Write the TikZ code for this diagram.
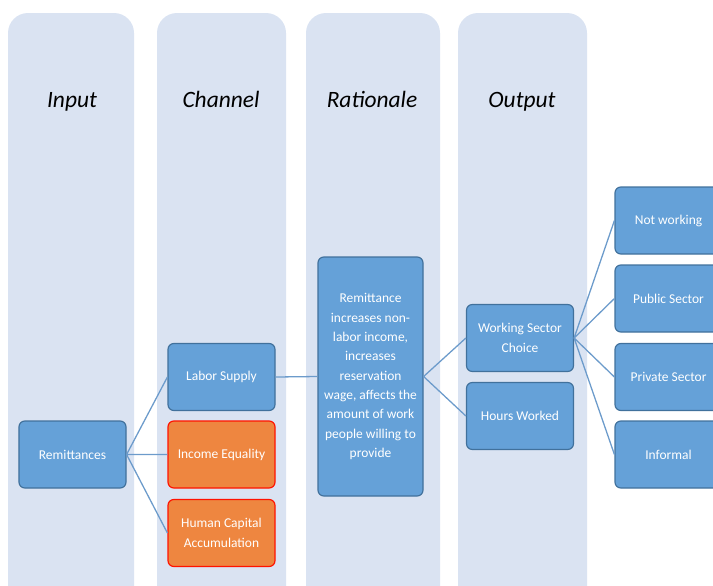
\documentclass[tikz,border=0pt]{standalone}
\usepackage{fontspec}
\setmainfont{Carlito}
\usepackage{tikz}
\definecolor{lanebg}{HTML}{DAE3F2}
\definecolor{boxblue}{HTML}{65A1D8}
\definecolor{boxedge}{HTML}{41719C}
\definecolor{boxorange}{HTML}{EE8640}
\definecolor{linkblue}{HTML}{6C9BCB}
\tikzset{
  lane/.style={fill=lanebg,rounded corners=20*0.03cm},
  lanetitle/.style={anchor=base,font=\fontsize{20}{24}\selectfont\itshape},
  box/.style={draw=boxedge,line width=1pt,fill=boxblue,rounded corners=5pt,text=white,
    minimum width=3.21cm,minimum height=2.01cm,align=center,inner sep=2pt,
    font=\fontsize{11.5}{16.5}\selectfont},
  orbox/.style={box,draw=red!85!orange,fill=boxorange},
  link/.style={draw=linkblue,line width=1.1pt}
}

\begin{document}
\begin{tikzpicture}[x=0.03cm,y=-0.03cm]
\useasboundingbox (0,0) rectangle (713,585);
% lanes
\fill[lane] (8,13) rectangle (134,620);
\fill[lane] (157,13) rectangle (286,620);
\fill[lane] (306,13) rectangle (440,620);
\fill[lane] (458,13) rectangle (587,620);
\node[lanetitle] (tin) at (72,107) {Input};
\node[lanetitle] (tch) at (221,107) {Channel};
\node[lanetitle] (tra) at (372,107) {Rationale};
\node[lanetitle] (tou) at (522,107) {Output};
% input and channels
\node[box] (rem) at (72.5,454.5) {Remittances};
\node[box] (lab) at (221.5,377) {Labor Supply};
\node[orbox] (inc) at (221.5,454.5) {Income Equality};
\node[orbox] (hum) at (221.5,533) {Human Capital\\Accumulation};
% rationale
\node[box,minimum width=3.15cm,minimum height=7.17cm] (rat) at (370.5,376.5)
  {Remittance\\increases non-\\labor income,\\increases\\reservation\\wage, affects the\\amount of work\\people willing to\\provide};
% output
\node[box] (wsc) at (520,338) {Working Sector\\Choice};
\node[box] (hrs) at (520,416) {Hours Worked};
\node[box] (nwk) at (668.5,220.5) {Not working};
\node[box] (pub) at (668.5,298.5) {Public Sector};
\node[box] (pri) at (668.5,377) {Private Sector};
\node[box] (inf) at (668.5,454.5) {Informal};
% connectors
\draw[link] (rem.east) -- (lab.west) (rem.east) -- (inc.west) (rem.east) -- (hum.west);
\draw[link] (lab.east) -- (rat.west);
\draw[link] (rat.east) -- (wsc.west) (rat.east) -- (hrs.west);
\draw[link] (wsc.east) -- (nwk.west) (wsc.east) -- (pub.west) (wsc.east) -- (pri.west) (wsc.east) -- (inf.west);
\end{tikzpicture}
\end{document}
